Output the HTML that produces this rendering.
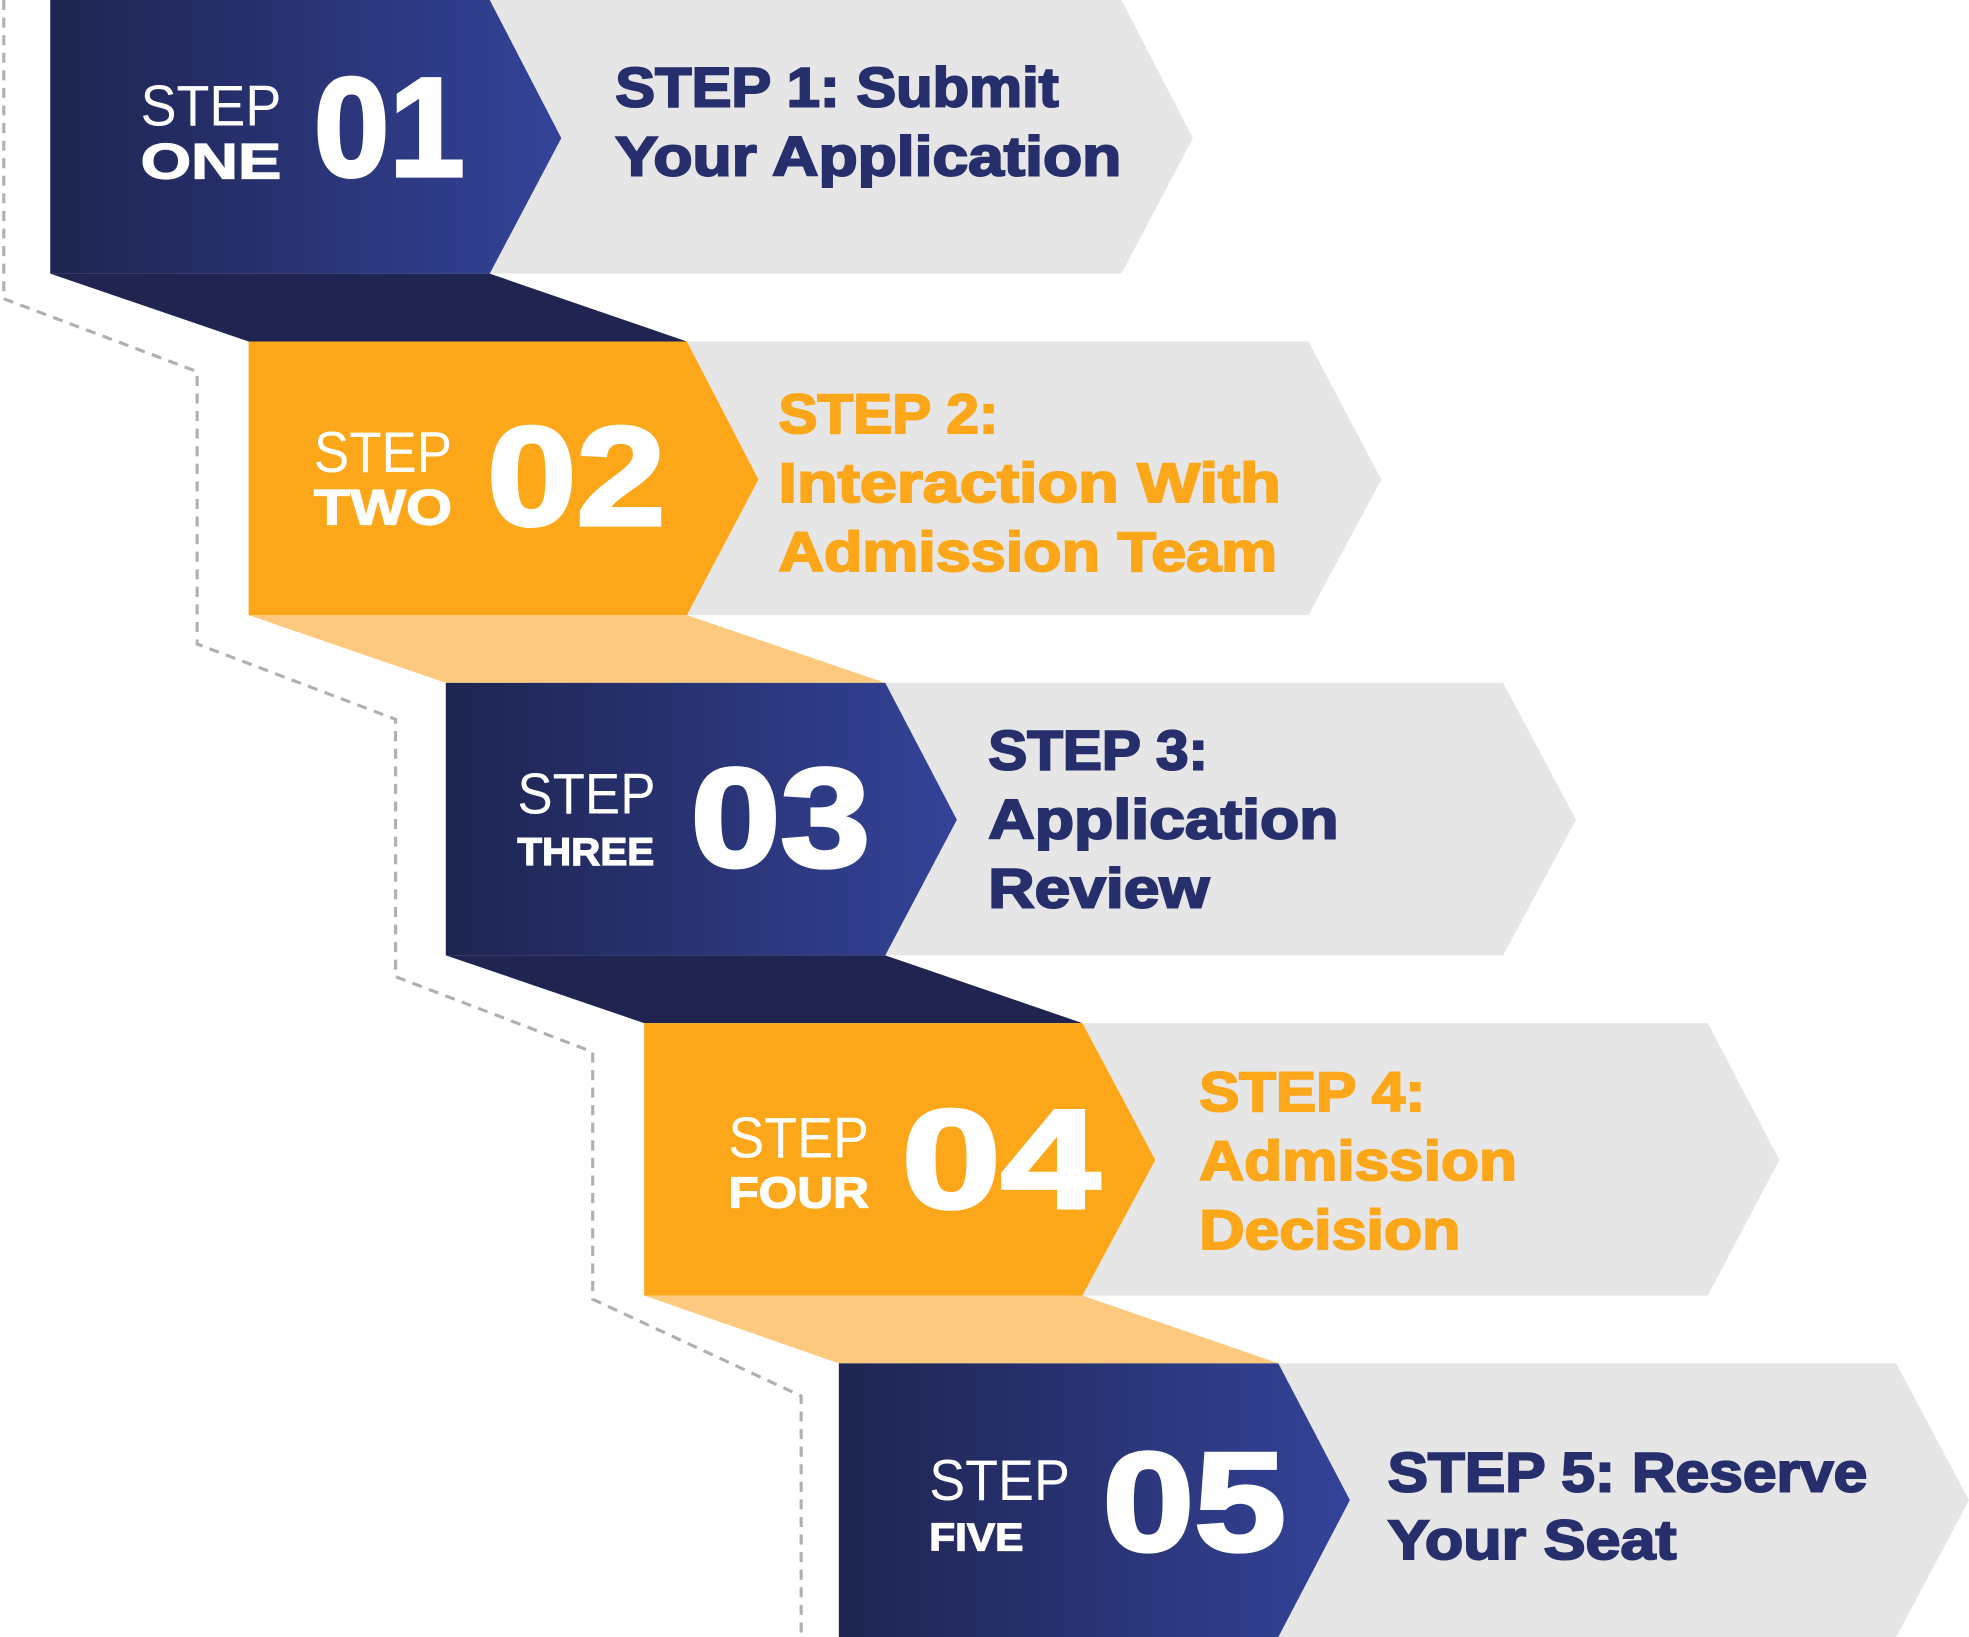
<!DOCTYPE html>
<html><head><meta charset="utf-8"><style>
html,body{margin:0;padding:0;background:#fff;}
svg{display:block;}
text{font-family:"Liberation Sans",sans-serif;}
.st{font-size:46px;fill:#fff;font-weight:normal;}
.lb{font-size:40px;fill:#fff;font-weight:bold;stroke:#fff;stroke-width:1;}
.num{font-size:112px;fill:#fff;font-weight:bold;stroke:#fff;stroke-width:3;}
.t{font-size:44px;font-weight:bold;stroke-width:1.6;}
.d{fill:#262f6c;stroke:#262f6c;}
.o{fill:#fca71a;stroke:#fca71a;}
</style></head><body>
<svg width="1969" height="1637" viewBox="0 0 1568 1304" preserveAspectRatio="none" xmlns="http://www.w3.org/2000/svg">
<defs>
<linearGradient id="g" x1="0" x2="1" y1="0" y2="0">
<stop offset="0" stop-color="#1e2450"/><stop offset="1" stop-color="#344399"/>
</linearGradient>
</defs>
<polyline points="3,0 3,238 157,296 157,513 315,573 315,778 472,838 472,1035 638,1112 638,1304" fill="none" stroke="#b0b0b0" stroke-width="2.5" stroke-dasharray="8,6"/>
<polygon points="40,218 390,218 547,272 198,272" fill="#1f2550"/>
<polygon points="198,490 547,490 705,544 355,544" fill="#fdc97f"/>
<polygon points="355,761 705,761 862,815 513,815" fill="#1f2550"/>
<polygon points="513,1032 862,1032 1018,1086 668,1086" fill="#fdc97f"/>
<polygon points="390,0 893,0 950,110 893,218 390,218 447,110" fill="#e6e6e6"/>
<polygon points="547,272 1042,272 1100,382 1042,490 547,490 604,382" fill="#e6e6e6"/>
<polygon points="705,544 1197,544 1255,653 1197,761 705,761 762,653" fill="#e6e6e6"/>
<polygon points="862,815 1360,815 1417,924 1360,1032 862,1032 920,924" fill="#e6e6e6"/>
<polygon points="1018,1086 1510,1086 1568,1195 1510,1304 1018,1304 1075,1195" fill="#e6e6e6"/>
<polygon points="40,0 390,0 447,110 390,218 40,218" fill="url(#g)"/>
<polygon points="198,272 547,272 604,382 547,490 198,490" fill="#fca71a"/>
<polygon points="355,544 705,544 762,653 705,761 355,761" fill="url(#g)"/>
<polygon points="513,815 862,815 920,924 862,1032 513,1032" fill="#fca71a"/>
<polygon points="668,1086 1018,1086 1075,1195 1018,1304 668,1304" fill="url(#g)"/>
<text class="st" x="112" y="100" textLength="112" lengthAdjust="spacingAndGlyphs">STEP</text>
<text class="lb" x="112" y="142" textLength="112" lengthAdjust="spacingAndGlyphs">ONE</text>
<text class="num" x="250" y="140" textLength="120" lengthAdjust="spacingAndGlyphs">01</text>
<text class="st" x="250" y="376" textLength="110" lengthAdjust="spacingAndGlyphs">STEP</text>
<text class="lb" x="250" y="418" textLength="110" lengthAdjust="spacingAndGlyphs">TWO</text>
<text class="num" x="388" y="418" textLength="142" lengthAdjust="spacingAndGlyphs">02</text>
<text class="st" x="412" y="648" textLength="110" lengthAdjust="spacingAndGlyphs">STEP</text>
<text class="lb" x="412" y="689" style="font-size:31px" textLength="109" lengthAdjust="spacingAndGlyphs">THREE</text>
<text class="num" x="550" y="690" textLength="143" lengthAdjust="spacingAndGlyphs">03</text>
<text class="st" x="580" y="922" textLength="112" lengthAdjust="spacingAndGlyphs">STEP</text>
<text class="lb" x="580" y="962" style="font-size:35px" textLength="112" lengthAdjust="spacingAndGlyphs">FOUR</text>
<text class="num" x="718" y="962" textLength="158" lengthAdjust="spacingAndGlyphs">04</text>
<text class="st" x="740" y="1195" textLength="112" lengthAdjust="spacingAndGlyphs">STEP</text>
<text class="lb" x="740" y="1235" style="font-size:31px" textLength="75" lengthAdjust="spacingAndGlyphs">FIVE</text>
<text class="num" x="878" y="1235" textLength="146" lengthAdjust="spacingAndGlyphs">05</text>
<text class="t d" x="490" y="85" textLength="353" lengthAdjust="spacingAndGlyphs">STEP 1: Submit</text>
<text class="t d" x="490" y="140" textLength="403" lengthAdjust="spacingAndGlyphs">Your Application</text>
<text class="t o" x="620" y="345" textLength="175" lengthAdjust="spacingAndGlyphs">STEP 2:</text>
<text class="t o" x="620" y="400" textLength="400" lengthAdjust="spacingAndGlyphs">Interaction With</text>
<text class="t o" x="620" y="455" textLength="397" lengthAdjust="spacingAndGlyphs">Admission Team</text>
<text class="t d" x="787" y="613" textLength="175" lengthAdjust="spacingAndGlyphs">STEP 3:</text>
<text class="t d" x="787" y="668" textLength="279" lengthAdjust="spacingAndGlyphs">Application</text>
<text class="t d" x="787" y="723" textLength="176" lengthAdjust="spacingAndGlyphs">Review</text>
<text class="t o" x="955" y="885" textLength="180" lengthAdjust="spacingAndGlyphs">STEP 4:</text>
<text class="t o" x="955" y="940" textLength="253" lengthAdjust="spacingAndGlyphs">Admission</text>
<text class="t o" x="955" y="995" textLength="208" lengthAdjust="spacingAndGlyphs">Decision</text>
<text class="t d" x="1105" y="1188" textLength="382" lengthAdjust="spacingAndGlyphs">STEP 5: Reserve</text>
<text class="t d" x="1105" y="1242" textLength="230" lengthAdjust="spacingAndGlyphs">Your Seat</text>
</svg>
</body></html>
